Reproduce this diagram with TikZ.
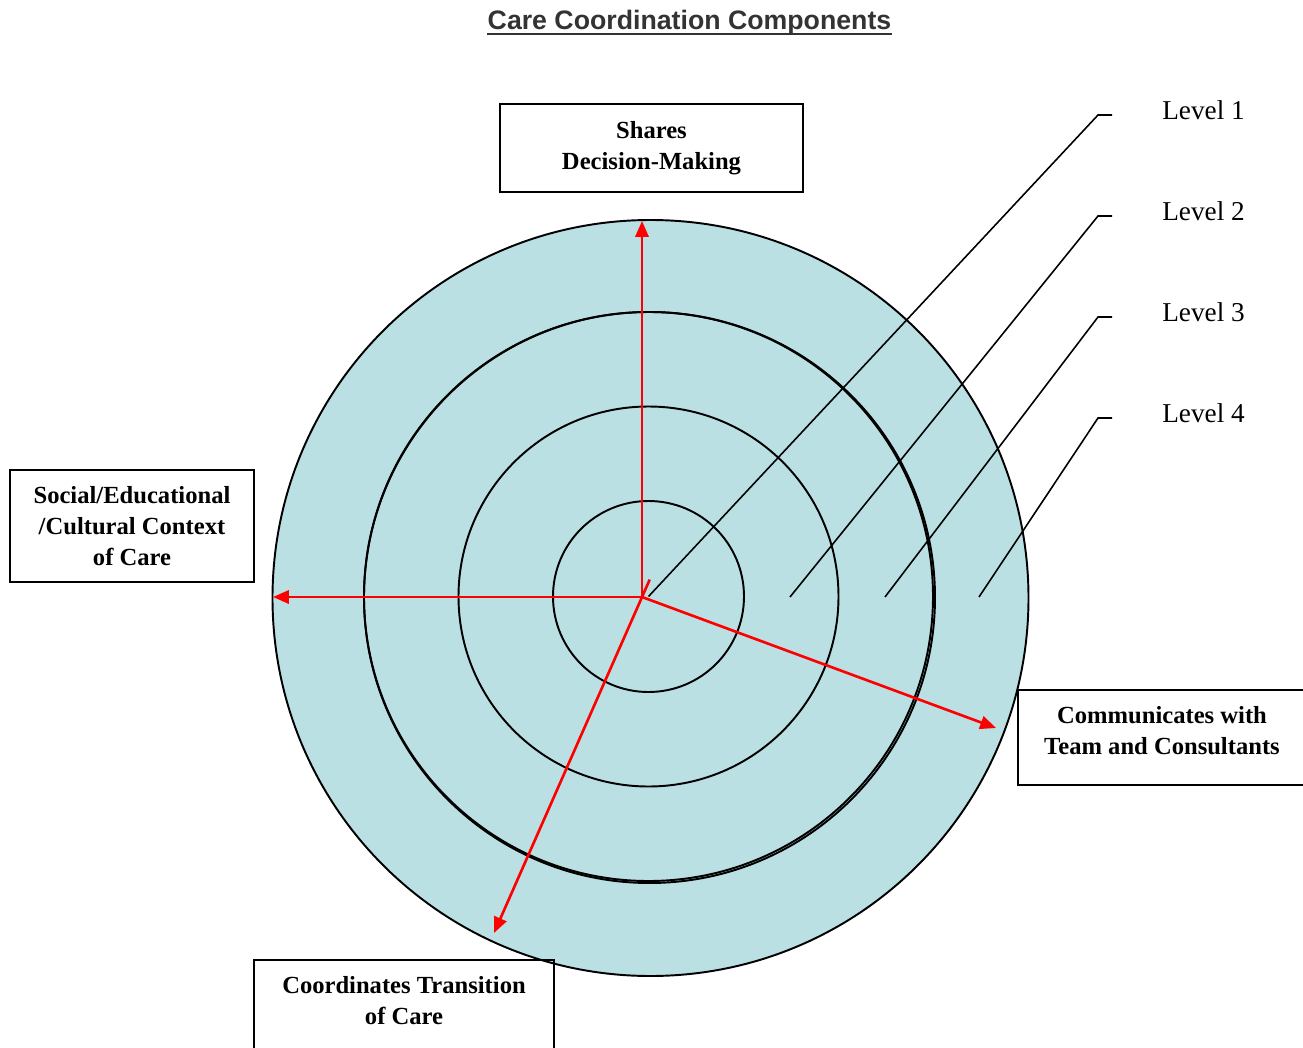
\documentclass[tikz,border=0pt]{standalone}
\usepackage{fontspec}
\setmainfont{Liberation Serif}
\newfontfamily\titlefont{Liberation Sans}
\usepackage{xcolor}
\usepackage{tikz}
\usetikzlibrary{arrows.meta,positioning}

\definecolor{ringblue}{RGB}{187,224,227}
\definecolor{titlegray}{RGB}{51,51,51}

\tikzset{
    ring/.style={draw=black, line width=1.1pt},
    spoke/.style={draw=red, line width=1.5pt, -{Triangle[length=9pt,width=7.5pt]}},
    leader/.style={draw=black, line width=0.9pt},
    compbox/.style={draw=black, line width=1pt, rectangle, inner sep=0pt},
    comptext/.style={font=\fontsize{14}{17.5}\selectfont\bfseries, align=center, inner sep=0pt},
    levellabel/.style={font=\fontsize{15.5}{18}\selectfont, anchor=west, inner sep=0pt}
}

\begin{document}
\begin{tikzpicture}[x=0.02cm, y=-0.02cm]
    \useasboundingbox (0,0) rectangle (1303,1048);

    % title
    \node[font=\titlefont\fontsize{15.2}{18}\selectfont\bfseries, text=titlegray, anchor=base, inner sep=0pt] (title) at (689.5,30) {Care Coordination Components};
    \draw[titlegray, line width=1.6pt] ([shift={(0,4)}]title.base west) -- ([shift={(0,4)}]title.base east);

    % rings
    \coordinate (outermid) at (650.5,598);
    \coordinate (mid) at (648.5,596.5);
    \fill[ringblue] (outermid) circle[radius=378];
    \draw[ring] (outermid) circle[radius=378];
    \draw[ring] (mid) circle[radius=284.5];
    \draw[ring] (649.5,597.5) circle[radius=285.5];
    \draw[ring] (mid) circle[radius=190];
    \draw[ring] (mid) circle[radius=95.5];

    % levels
    \node[levellabel] (lev1) at (1162,110) {Level 1};
    \node[levellabel] (lev2) at (1162,211) {Level 2};
    \node[levellabel] (lev3) at (1162,312) {Level 3};
    \node[levellabel] (lev4) at (1162,413) {Level 4};
    \coordinate (foot2) at (790,597);
    \coordinate (foot3) at (885,597);
    \coordinate (foot4) at (979,597);
    \draw[leader] (mid) -- ([shift={(-64,5)}]lev1.west) -- ([shift={(-50,5)}]lev1.west);
    \draw[leader] (foot2) -- ([shift={(-64,5)}]lev2.west) -- ([shift={(-50,5)}]lev2.west);
    \draw[leader] (foot3) -- ([shift={(-64,5)}]lev3.west) -- ([shift={(-50,5)}]lev3.west);
    \draw[leader] (foot4) -- ([shift={(-64,5)}]lev4.west) -- ([shift={(-50,5)}]lev4.west);

    % component boxes
    \node[compbox, comptext, minimum width=6.06cm, minimum height=1.76cm] (shares) at (651.5,148) {Shares\\Decision-Making};
    \node[compbox, comptext, minimum width=4.88cm, minimum height=2.24cm] (social) at (132,526) {Social/Educational\\/Cultural Context\\of Care};
    \node[compbox, minimum width=5.76cm, minimum height=1.9cm] (commbox) at (1162,737.5) {};
    \node[comptext] (commtext) at (1162,730.5) {Communicates with\\Team and Consultants};
    \node[compbox, minimum width=6cm, minimum height=2cm] (transbox) at (404,1010) {};
    \node[comptext] (transtext) at (404,1000.5) {Coordinates Transition\\of Care};

    % spokes
    \coordinate (hub) at (642,597);
    \coordinate (hubtail) at (649.7,579.6);
    \coordinate (upend) at (642,221);
    \coordinate (leftend) at (273,597);
    \coordinate (rightend) at (996,728);
    \coordinate (downend) at (494,933);
    \draw[spoke] (hub) -- (upend);
    \draw[spoke] (hub) -- (leftend);
    \draw[spoke] (hub) -- (rightend);
    \draw[spoke] (hubtail) -- (downend);
\end{tikzpicture}
\end{document}
